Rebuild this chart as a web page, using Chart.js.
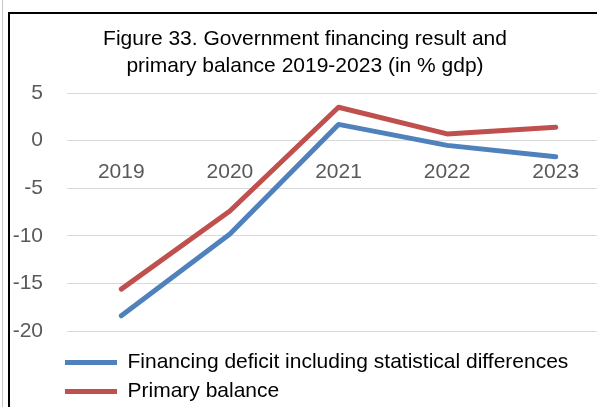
<!DOCTYPE html>
<html>
<head>
<meta charset="utf-8">
<script src="https://cdn.jsdelivr.net/npm/chart.js@4"></script>
<style>
  html, body { margin: 0; padding: 0; background: #fff; overflow: hidden; }
  #wrap { position: relative; width: 597px; height: 407px; overflow: hidden; }
  #grafico { position: absolute; left: 0; top: 0; }
  .linea-gris { position: absolute; left: 2px; top: 0; width: 1px; height: 407px; background: #c6c6c6; }
  .marco { position: absolute; left: 8px; top: 12px; width: 620px; height: 420px;
           border-left: 2px solid #000; border-top: 2px solid #000; pointer-events: none; }
</style>
</head>
<body>
<div id="wrap">
  <canvas id="grafico" width="610" height="420"></canvas>
  <div class="linea-gris"></div>
  <div class="marco"></div>
</div>
<script>
// datos (% del PIB)
const anios = ['2019', '2020', '2021', '2022', '2023'];
const deficitFinanciamiento = [-18.4, -9.8, 1.7, -0.5, -1.7];
const balancePrimario = [-15.6, -7.4, 3.5, 0.7, 1.4];
const ticksY = [-20, -15, -10, -5, 0, 5];

const titulo = ['Figure 33. Government financing result and', 'primary balance 2019-2023 (in % gdp)'];
const nombreSerie1 = 'Financing deficit including statistical differences';
const nombreSerie2 = 'Primary balance';

const fuente = "'Liberation Sans', Arial, sans-serif";

// mueve la leyenda a su sitio (alineada con el área del gráfico)
const ajusteLeyenda = {
  id: 'ajusteLeyenda',
  afterLayout(chart){
    const lg = chart.legend;
    if (!lg) return;
    const dy = 13;
    lg.left = 57;
    lg.top += dy;
    lg.bottom += dy;
  }
};

const ctx = document.getElementById('grafico').getContext('2d');
const chart = new Chart(ctx, {
  type: 'line',
  data: {
    labels: anios,
    datasets: [
      {
        label: nombreSerie1,
        data: deficitFinanciamiento,
        borderColor: '#4F81BD',
        backgroundColor: '#4F81BD',
        borderWidth: 5,
        borderCapStyle: 'round',
        borderJoinStyle: 'round',
        pointRadius: 0,
        pointStyle: 'line',
        tension: 0
      },
      {
        label: nombreSerie2,
        data: balancePrimario,
        borderColor: '#C0504D',
        backgroundColor: '#C0504D',
        borderWidth: 5,
        borderCapStyle: 'round',
        borderJoinStyle: 'round',
        pointRadius: 0,
        pointStyle: 'line',
        tension: 0
      }
    ]
  },
  options: {
    responsive: false,
    animation: false,
    events: [],
    layout: { padding: { left: 0, right: 0, top: 0, bottom: 21 } },
    plugins: {
      title: {
        display: true,
        text: titulo,
        color: '#000',
        font: { family: fuente, size: 21, weight: 'normal', lineHeight: 1.262 },
        padding: { top: 26, bottom: 14 }
      },
      legend: {
        display: true,
        position: 'bottom',
        align: 'start',
        labels: {
          usePointStyle: true,
          pointStyleWidth: 52,
          color: '#000',
          padding: 8,
          font: { family: fuente, size: 21 }
        }
      },
      tooltip: { enabled: false }
    },
    scales: {
      x: {
        type: 'category',
        offset: true,
        position: { y: 0 },
        grid: { display: false, drawTicks: false, offset: true },
        border: { display: false },
        ticks: {
          color: '#595959',
          padding: 19,
          maxRotation: 0,
          font: { family: fuente, size: 21 }
        }
      },
      y: {
        min: -20,
        max: 5,
        grid: { color: '#d9d9d9', lineWidth: 1, drawTicks: false },
        border: { display: false },
        afterBuildTicks: (scale) => { scale.ticks = ticksY.map(v => ({ value: v })); },
        afterFit: (scale) => { scale.width = 67; },
        ticks: {
          color: '#595959',
          padding: 24,
          font: { family: fuente, size: 21 }
        }
      }
    }
  },
  plugins: [ajusteLeyenda]
});
</script>
</body>
</html>
